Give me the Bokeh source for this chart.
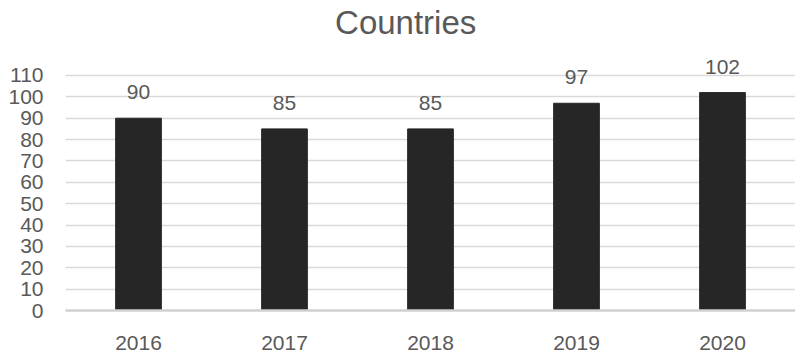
from bokeh.plotting import figure
from bokeh.models import ColumnDataSource, FactorRange, Range1d, FixedTicker, Label
from bokeh.core.properties import value
from bokeh.embed import file_html
from bokeh.resources import INLINE

years = ["2016", "2017", "2018", "2019", "2020"]
countries = [90, 85, 85, 97, 102]
y_ticks = [0, 10, 20, 30, 40, 50, 60, 70, 80, 90, 100, 110]
title_text = "Countries"

FONT = "Liberation Sans"
TXT = "#595959"

source = ColumnDataSource(data=dict(x=years, y=countries, lbl=[str(v) for v in countries]))

p = figure(
    title=None,
    x_range=FactorRange(*years, start=0, end=4.97),
    y_range=Range1d(0, 145.1),
    width=795, height=358,
    output_backend="svg", toolbar_location=None,
    min_border_left=65, min_border_right=0, min_border_top=0, min_border_bottom=48,
)
p.outline_line_color = None
p.background_fill_color = "white"
p.border_fill_color = "white"

p.vbar(x="x", top="y", width=0.313, source=source, fill_color="#262626", line_color="#262626")
p.text(x="x", y="y", text="lbl", source=source, text_align="center", text_baseline="alphabetic",
       y_offset=-26, text_font=value(FONT), text_font_size="21px", text_color=TXT)

p.yaxis.ticker = FixedTicker(ticks=y_ticks)
p.ygrid.ticker = FixedTicker(ticks=y_ticks)
p.ygrid.grid_line_color = "#d9d9d9"
p.ygrid.grid_line_width = 1.5
p.xgrid.grid_line_color = None

p.yaxis.axis_line_color = None
p.yaxis.major_tick_line_color = None
p.yaxis.minor_tick_line_color = None
p.yaxis.major_tick_out = 0
p.yaxis.major_tick_in = 0
p.yaxis.major_label_standoff = 22
p.yaxis.major_label_text_font = FONT
p.yaxis.major_label_text_font_size = "21px"
p.yaxis.major_label_text_color = TXT

p.xaxis.axis_line_color = "#d0d0d0"
p.xaxis.axis_line_width = 2.5
p.xaxis.major_tick_line_color = None
p.xaxis.minor_tick_line_color = None
p.xaxis.major_tick_out = 0
p.xaxis.major_tick_in = 0
p.xaxis.major_label_standoff = 25
p.xaxis.major_label_text_font = FONT
p.xaxis.major_label_text_font_size = "21px"
p.xaxis.major_label_text_color = TXT

title = Label(x=2.33, y=135, text=title_text, text_align="center", text_baseline="middle",
              text_font=FONT, text_font_size="33px", text_color=TXT)
p.add_layout(title)

open("out.html", "w").write(file_html(p, INLINE))
